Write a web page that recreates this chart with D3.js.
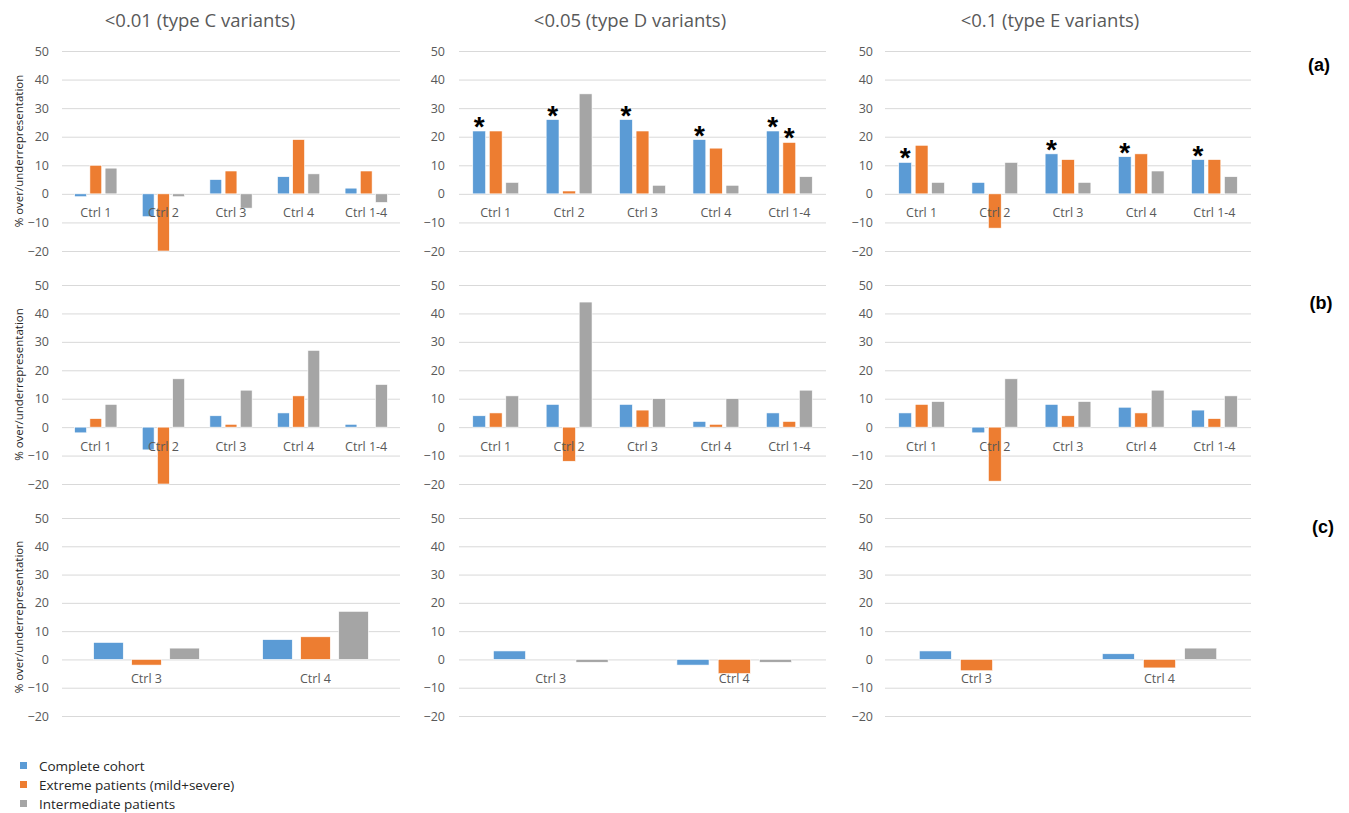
<!DOCTYPE html>
<html>
<head>
<meta charset="utf-8">
<script src="https://cdn.jsdelivr.net/npm/d3@7"></script>
<style>
  html, body { margin: 0; padding: 0; background: #fff; }
  svg { display: block; }
</style>
</head>
<body>
<svg id="chart" width="1349" height="813"></svg>
<script>
// ---------- DATA ----------
const panelTitles = ["<0.01 (type C variants)", "<0.05 (type D variants)", "<0.1 (type E variants)"];
const rowLabels = ["(a)", "(b)", "(c)"];
const seriesNames = ["Complete cohort", "Extreme patients (mild+severe)", "Intermediate patients"];
const seriesColors = ["#5B9BD5", "#ED7D31", "#A5A5A5"];
const categoriesAB = ["Ctrl 1", "Ctrl 2", "Ctrl 3", "Ctrl 4", "Ctrl 1-4"];
const categoriesC = ["Ctrl 3", "Ctrl 4"];
const yTicks = [-20, -10, 0, 10, 20, 30, 40, 50];
const yTitle = "% over/underrepresentation";

// values per panel: [complete, extreme, intermediate] x categories
const rowA_typeC = [[-1, -8, 5, 6, 2], [10, -20, 8, 19, 8], [9, -1, -5, 7, -3]];
const rowA_typeD = [[22, 26, 26, 19, 22], [22, 1, 22, 16, 18], [4, 35, 3, 3, 6]];
const rowA_typeE = [[11, 4, 14, 13, 12], [17, -12, 12, 14, 12], [4, 11, 4, 8, 6]];
const rowB_typeC = [[-2, -8, 4, 5, 1], [3, -20, 1, 11, 0], [8, 17, 13, 27, 15]];
const rowB_typeD = [[4, 8, 8, 2, 5], [5, -12, 6, 1, 2], [11, 44, 10, 10, 13]];
const rowB_typeE = [[5, -2, 8, 7, 6], [8, -19, 4, 5, 3], [9, 17, 9, 13, 11]];
const rowC_typeC = [[6, 7], [-2, 8], [4, 17]];
const rowC_typeD = [[3, -2], [0, -5], [-1, -1]];
const rowC_typeE = [[3, 2], [-4, -3], [0, 4]];

// significance markers (asterisks), same shape as values
const sigA_typeD = [[1, 1, 1, 1, 1], [0, 0, 0, 0, 1], [0, 0, 0, 0, 0]];
const sigA_typeE = [[1, 0, 1, 1, 1], [0, 0, 0, 0, 0], [0, 0, 0, 0, 0]];

// ---------- LAYOUT ----------
const rows = [
  { label: rowLabels[0], cats: categoriesAB, top: 51, bottom: 251, labelX: 1319, labelY: 65,
    panels: [rowA_typeC, rowA_typeD, rowA_typeE], sig: [null, sigA_typeD, sigA_typeE] },
  { label: rowLabels[1], cats: categoriesAB, top: 285, bottom: 484, labelX: 1321, labelY: 303,
    panels: [rowB_typeC, rowB_typeD, rowB_typeE], sig: [null, null, null] },
  { label: rowLabels[2], cats: categoriesC, top: 518, bottom: 716, labelX: 1323, labelY: 527,
    panels: [rowC_typeC, rowC_typeD, rowC_typeE], sig: [null, null, null] }
];
const cols = [
  { x0: 62, x1: 400, tickRight: 49, titleX: 200 },
  { x0: 459, x1: 826, tickRight: 445, titleX: 630 },
  { x0: 885, x1: 1251, tickRight: 873, titleX: 1050 }
];

const svg = d3.select("#chart");
const FONT = "'Open Sans', 'Noto Sans', sans-serif";

// column titles
cols.forEach((c, i) => {
  svg.append("text")
    .attr("x", c.titleX).attr("y", 27)
    .attr("text-anchor", "middle")
    .attr("font-family", FONT).attr("font-size", 18.5)
    .attr("fill", "#595959")
    .text(panelTitles[i]);
});

rows.forEach((row) => {
  const y = d3.scaleLinear().domain([50, -20]).range([row.top, row.bottom]);

  // y-axis title (left column only)
  svg.append("text")
    .attr("transform", `translate(18,${(row.top + row.bottom) / 2}) rotate(-90)`)
    .attr("text-anchor", "middle").attr("dominant-baseline", "central")
    .attr("font-family", FONT).attr("font-size", 11.5)
    .attr("fill", "#262626")
    .text(yTitle);

  // row label
  svg.append("text")
    .attr("x", row.labelX).attr("y", row.labelY)
    .attr("text-anchor", "middle").attr("dominant-baseline", "central")
    .attr("font-family", "'Liberation Sans', Arial, sans-serif")
    .attr("font-weight", "bold").attr("font-size", 18)
    .attr("fill", "#000")
    .text(row.label);

  cols.forEach((c, ci) => {
    const g = svg.append("g");
    const values = row.panels[ci];
    const sig = row.sig[ci];

    // y axis with gridlines
    const axis = d3.axisLeft(y)
      .tickValues(yTicks)
      .tickSize(-(c.x1 - c.x0))
      .tickPadding(c.x0 - c.tickRight)
      .tickFormat(d3.format("d"));
    const ag = g.append("g").attr("transform", `translate(${c.x0},0)`).call(axis);
    ag.select(".domain").remove();
    ag.selectAll(".tick line").attr("stroke", "#D9D9D9").attr("stroke-width", 1);
    ag.selectAll(".tick text")
      .attr("font-family", FONT).attr("font-size", 12.5)
      .attr("fill", "#595959");

    const x = d3.scaleBand().domain(row.cats).range([c.x0, c.x1]).padding(0);
    const bw = x.bandwidth() * 0.175;
    const step = x.bandwidth() * 0.225;
    const xs = d3.scalePoint().domain([0, 1, 2]).range([-step, step]);

    const zero = y(0);
    values.forEach((series, si) => {
      g.append("g").selectAll("rect")
        .data(series.map((v, k) => ({ v, cat: row.cats[k] })))
        .join("rect")
        .attr("x", d => x(d.cat) + x.bandwidth() / 2 + xs(si) - bw / 2)
        .attr("width", bw)
        .attr("y", d => Math.min(y(d.v), zero))
        .attr("height", d => Math.abs(y(d.v) - zero))
        .attr("fill", seriesColors[si])
        .attr("stroke", d => d.v === 0 ? "none" : "#fff")
        .attr("stroke-width", 0.6);
    });

    // category labels
    g.append("g").selectAll("text")
      .data(row.cats)
      .join("text")
      .attr("x", d => x(d) + x.bandwidth() / 2)
      .attr("y", zero + 19)
      .attr("text-anchor", "middle").attr("dominant-baseline", "central")
      .attr("font-family", FONT).attr("font-size", 12.5)
      .attr("fill", "#595959")
      .text(d => d);

    // significance asterisks
    if (sig) {
      sig.forEach((sr, si) => {
        sr.forEach((flag, k) => {
          if (!flag) return;
          const v = values[si][k];
          svg.append("text")
            .attr("x", x(row.cats[k]) + x.bandwidth() / 2 + xs(si))
            .attr("y", y(v) + 5)
            .attr("text-anchor", "middle")
            .attr("font-family", "'Liberation Sans', Arial, sans-serif")
            .attr("font-weight", "bold").attr("font-size", 28)
            .attr("fill", "#000")
            .text("*");
        });
      });
    }
  });
});

// legend
const legY = [766, 785, 804];
seriesNames.forEach((name, i) => {
  svg.append("rect")
    .attr("x", 20).attr("y", legY[i] - 4).attr("width", 7).attr("height", 7)
    .attr("fill", seriesColors[i]);
  svg.append("text")
    .attr("x", 39).attr("y", legY[i])
    .attr("dominant-baseline", "central")
    .attr("font-family", FONT).attr("font-size", 13.5)
    .attr("fill", "#262626")
    .text(name);
});
</script>
</body>
</html>
